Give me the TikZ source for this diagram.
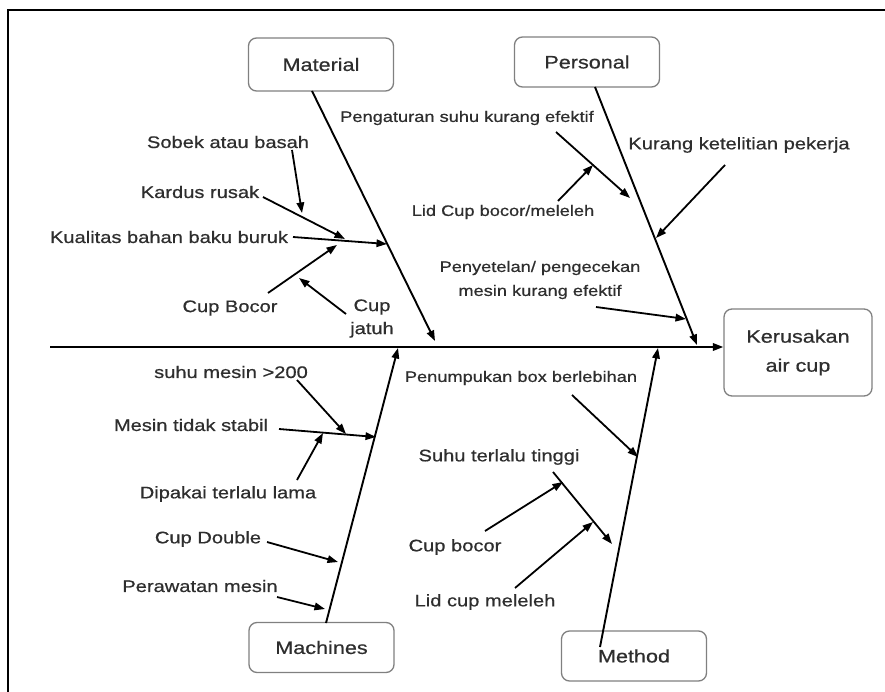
\documentclass[tikz,border=0pt]{standalone}
\usepackage{fontspec}
\setmainfont{Liberation Sans}[FakeStretch=1.2,FakeBold=0.6]
\usetikzlibrary{arrows.meta}
\begin{document}
\begin{tikzpicture}[x=1pt,y=-1pt,
  tip/.style={-{Triangle[length=10.5pt,width=7.5pt]}},
  bone/.style={line width=1.9pt, tip},
  cause/.style={line width=1.8pt, tip},
  lbl/.style={inner sep=0pt, text=black!82, font=\fontsize{16.75}{23}\selectfont, align=center},
  lblsm/.style={lbl, font=\fontsize{15.2}{24}\selectfont},
  cat/.style={draw=black!50, rounded corners=8pt, line width=1.3pt,
    minimum width=145pt, minimum height=50pt, inner sep=0pt,
    text=black!82, font=\fontsize{18}{22}\selectfont},
  effect/.style={cat, minimum width=148pt, minimum height=87pt, align=center,
    font=\fontsize{18}{29}\selectfont},
]
\useasboundingbox (0,0) rectangle (885,692);
\fill[white] (0,0) rectangle (885,692);
% outer frame
\draw[line width=2pt] (8,692) -- (8,10) -- (885,10);

% category boxes and the effect
\node[cat, minimum height=53pt] (material) at (321,64.5) {Material};
\node[cat] (personal) at (587,62) {Personal};
\node[cat] (machines) at (321.5,647.5) {Machines};
\node[cat] (method) at (634,656) {Method};
\node[effect] (effect) at (798,352.5) {Kerusakan\\air cup};

% spine
\coordinate (spine) at (50,347);
\draw[bone] (spine) -- (spine -| effect.west);

% main bones
\coordinate (matA) at (312,91);   \coordinate (matB) at (435,341);
\coordinate (perA) at (595,87);   \coordinate (perB) at (697,345);
\coordinate (macA) at (326,623);  \coordinate (macB) at (398,348);
\coordinate (metA) at (600,647);  \coordinate (metB) at (658,348);
\draw[bone] (matA) -- (matB);
\draw[bone] (perA) -- (perB);
\draw[bone] (macA) -- (macB);
\draw[bone] (metA) -- (metB);

% ---- Material causes
\node[lbl] (sobek) at (228,142) {Sobek atau basah};
\node[lbl] (kardus) at (200,192) {Kardus rusak};
\node[lbl] (kualitas) at (169,237) {Kualitas bahan baku buruk};
\node[lbl] (cupbocor) at (230,308) {Cup Bocor};
\node[lbl] (jatuh) at (372,318.5) {Cup\\jatuh};
\coordinate (sobekT) at (292,150);   \coordinate (sobekH) at (302,213);
\coordinate (kardusT) at (263,197);  \coordinate (kardusH) at (345,239);
\coordinate (kualT) at (293,237);    \coordinate (kualH) at (387,244);
\coordinate (cbT) at (268,293);      \coordinate (cbH) at (337,245);
\coordinate (jatuhT) at (346,314);   \coordinate (jatuhH) at (299,278);
\draw[cause] (sobekT) -- (sobekH);
\draw[cause] (kardusT) -- (kardusH);
\draw[cause] (kualT) -- (kualH);
\draw[cause] (cbT) -- (cbH);
\draw[cause] (jatuhT) -- (jatuhH);

% ---- Personal causes
\node[lblsm] (atur) at (467,118) {Pengaturan suhu kurang efektif};
\node[lblsm] (lidcup) at (503,212) {Lid Cup bocor/meleleh};
\node[lbl] (teliti) at (739,145) {Kurang ketelitian pekerja};
\node[lblsm] (setel) at (540,280) {Penyetelan/ pengecekan\\mesin kurang efektif};
\coordinate (aturT) at (556,132);    \coordinate (aturH) at (630,198);
\coordinate (lidT) at (558,201);     \coordinate (lidH) at (593,165);
\coordinate (telitiT) at (725,165);  \coordinate (telitiH) at (656,238);
\coordinate (setelT) at (596,307);   \coordinate (setelH) at (686,319);
\draw[cause] (aturT) -- (aturH);
\draw[cause] (lidT) -- (lidH);
\draw[cause] (telitiT) -- (telitiH);
\draw[cause] (setelT) -- (setelH);

% ---- Machines causes
\node[lbl] (suhu) at (231,372) {suhu mesin >200};
\node[lbl] (stabil) at (191,425) {Mesin tidak stabil};
\node[lbl] (dipakai) at (228,494) {Dipakai terlalu lama};
\node[lbl] (double) at (208,539) {Cup Double};
\node[lbl] (rawat) at (200,586) {Perawatan mesin};
\coordinate (suhuT) at (297,380);    \coordinate (suhuH) at (346,434);
\coordinate (stabilT) at (279,429);  \coordinate (stabilH) at (376,437);
\coordinate (pakaiT) at (297,480);   \coordinate (pakaiH) at (323,433);
\coordinate (doubleT) at (267,542);  \coordinate (doubleH) at (338,562);
\coordinate (rawatT) at (277,597);   \coordinate (rawatH) at (325,609);
\draw[cause] (suhuT) -- (suhuH);
\draw[cause] (stabilT) -- (stabilH);
\draw[cause] (pakaiT) -- (pakaiH);
\draw[cause] (doubleT) -- (doubleH);
\draw[cause] (rawatT) -- (rawatH);

% ---- Method causes
\node[lblsm] (tumpuk) at (521,378) {Penumpukan box berlebihan};
\node[lbl] (tinggi) at (499,457) {Suhu terlalu tinggi};
\node[lbl] (bocor) at (455,547) {Cup bocor};
\node[lbl] (leleh) at (485,602) {Lid cup meleleh};
\coordinate (tumpukT) at (572,395);  \coordinate (tumpukH) at (638,457);
\coordinate (tinggiT) at (553,472);  \coordinate (tinggiH) at (612,544);
\coordinate (bocorT) at (485,531);   \coordinate (bocorH) at (563,482);
\coordinate (lelehT) at (515,588);   \coordinate (lelehH) at (593,522);
\draw[cause] (tumpukT) -- (tumpukH);
\draw[cause] (tinggiT) -- (tinggiH);
\draw[cause] (bocorT) -- (bocorH);
\draw[cause] (lelehT) -- (lelehH);
\end{tikzpicture}
\end{document}
